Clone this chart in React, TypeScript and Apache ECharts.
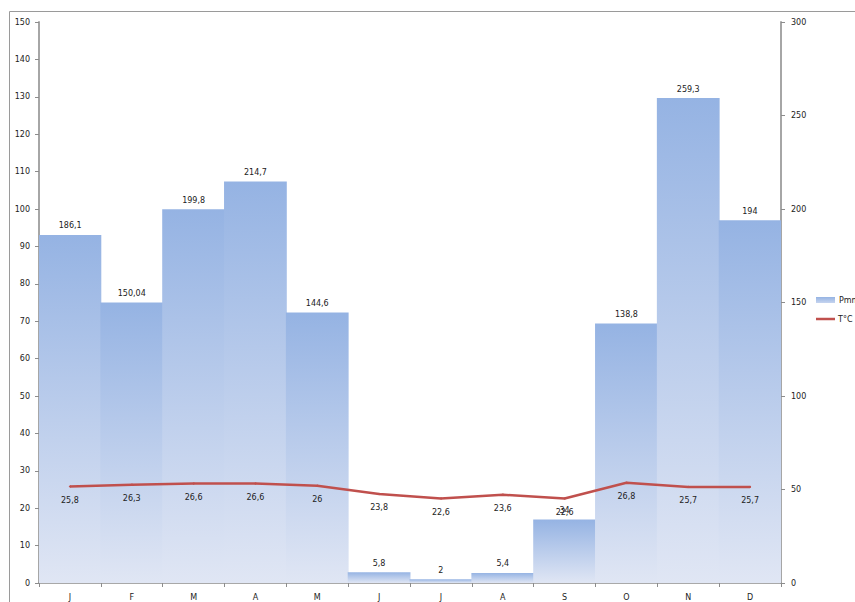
import React, { useEffect, useRef } from "react";
import * as echarts from "echarts";

const months = ["J", "F", "M", "A", "M", "J", "J", "A", "S", "O", "N", "D"];
const precipitation = [186.1, 150.04, 199.8, 214.7, 144.6, 5.8, 2, 5.4, 34, 138.8, 259.3, 194];
const temperature = [25.8, 26.3, 26.6, 26.6, 26, 23.8, 22.6, 23.6, 22.6, 26.8, 25.7, 25.7];
const seriesNames = ["Pmm", "T°C"];

const FONT = "DejaVu Sans";
const fmt = (v: number) => String(v).replace(".", ",");

export default function App() {
  const ref = useRef<HTMLDivElement>(null);
  useEffect(() => {
    if (!ref.current) return;
    const chart = echarts.init(ref.current, undefined, { renderer: "svg" });
    const mkGrad = () =>
      new echarts.graphic.LinearGradient(0, 0, 0, 1, [
        { offset: 0, color: "#95b3e3" },
        { offset: 1, color: "#e0e6f4" },
      ]);
    chart.setOption({
      animation: false,
      backgroundColor: "#ffffff",
      textStyle: { fontFamily: FONT },
      grid: { left: 39, right: 74, top: 22, bottom: 19, containLabel: false },
      graphic: [
        {
          type: "rect",
          shape: { x: 9.5, y: 11.5, width: 900, height: 700 },
          style: { fill: "none", stroke: "#9a9a9a", lineWidth: 1 },
          silent: true,
          z: -10,
        },
        {
          type: "rect",
          shape: { x: 816, y: 297, width: 19, height: 6 },
          style: {
            fill: new echarts.graphic.LinearGradient(0, 0, 0, 1, [
              { offset: 0, color: "#95b3e3" },
              { offset: 1, color: "#c6d4ef" },
            ]),
          },
          silent: true,
        },
        {
          type: "text",
          x: 839,
          y: 300,
          style: {
            text: seriesNames[0],
            fontFamily: FONT,
            fontSize: 8,
            fill: "#222",
            verticalAlign: "middle",
            align: "left",
          },
          silent: true,
        },
        {
          type: "line",
          shape: { x1: 816, y1: 319, x2: 835, y2: 319 },
          style: { stroke: "#c0504d", lineWidth: 2.5 },
          silent: true,
        },
        {
          type: "text",
          x: 838,
          y: 319,
          style: {
            text: seriesNames[1],
            fontFamily: FONT,
            fontSize: 8,
            fill: "#222",
            verticalAlign: "middle",
            align: "left",
          },
          silent: true,
        },
      ],
      xAxis: {
        type: "category",
        data: months,
        boundaryGap: true,
        axisLine: { lineStyle: { color: "#8c8c8c", width: 1.5 } },
        axisTick: { show: true, length: 4, alignWithLabel: false, lineStyle: { color: "#8c8c8c" } },
        axisLabel: { fontFamily: FONT, fontSize: 8, color: "#222222", margin: 10 },
        splitLine: { show: false },
      },
      yAxis: [
        {
          type: "value",
          min: 0,
          max: 150,
          interval: 10,
          position: "left",
          axisLine: { show: true, lineStyle: { color: "#a6a6a6", width: 2 } },
          axisTick: { show: true, length: 4, lineStyle: { color: "#8c8c8c" } },
          axisLabel: { fontFamily: FONT, fontSize: 8, color: "#222222", margin: 9 },
          splitLine: { show: false },
        },
        {
          type: "value",
          min: 0,
          max: 300,
          interval: 50,
          position: "right",
          axisLine: { show: true, lineStyle: { color: "#a6a6a6", width: 2 } },
          axisTick: { show: true, length: 4, lineStyle: { color: "#8c8c8c" } },
          axisLabel: { fontFamily: FONT, fontSize: 8, color: "#222222", margin: 10 },
          splitLine: { show: false },
        },
      ],
      series: [
        {
          name: seriesNames[0],
          type: "bar",
          yAxisIndex: 1,
          data: precipitation,
          barWidth: "101.5%",
          itemStyle: { color: mkGrad() },
          label: {
            show: true,
            position: "top",
            distance: 5,
            fontFamily: FONT,
            fontSize: 8,
            color: "#222",
            formatter: (p: any) => fmt(p.value),
          },
          z: 1,
        },
        {
          name: seriesNames[1],
          type: "line",
          yAxisIndex: 0,
          data: temperature,
          symbol: "circle",
          symbolSize: 2,
          showSymbol: true,
          lineStyle: { color: "#c0504d", width: 2.5 },
          itemStyle: { color: "#c0504d" },
          label: {
            show: true,
            position: "bottom",
            distance: 9,
            fontFamily: FONT,
            fontSize: 8,
            color: "#222",
            formatter: (p: any) => fmt(p.value),
          },
          z: 3,
        },
      ],
    });
    return () => chart.dispose();
  }, []);
  return (
    <div
      ref={ref}
      style={{ position: "fixed", left: 0, top: 0, width: 855, height: 602, background: "#fff" }}
    />
  );
}
